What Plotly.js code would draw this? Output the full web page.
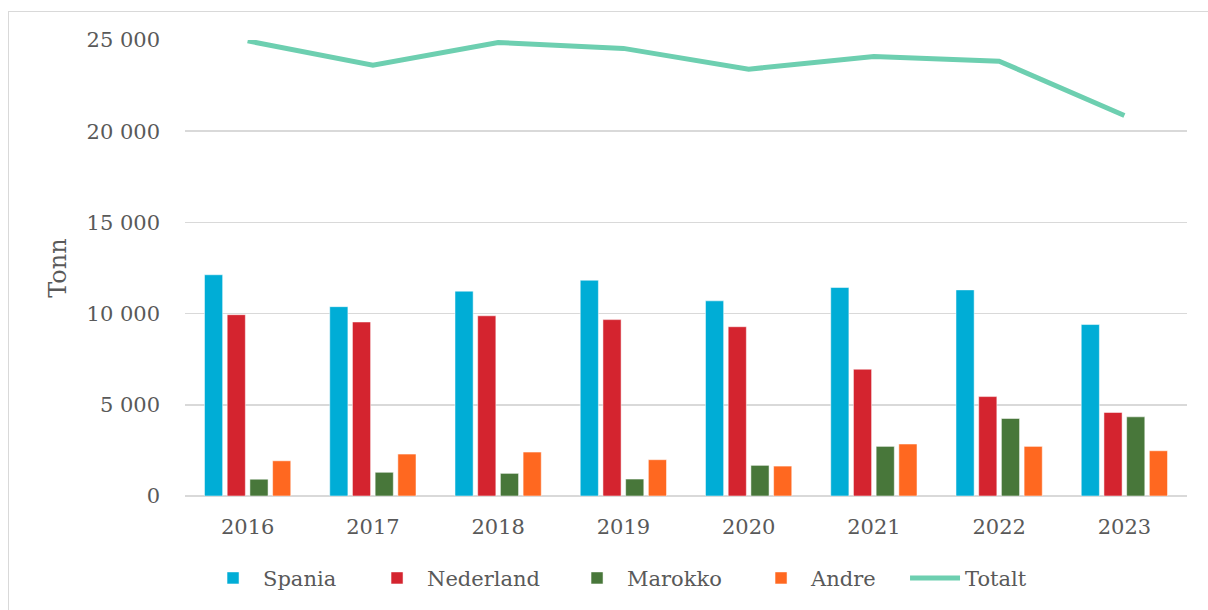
<!DOCTYPE html>
<html>
<head>
<meta charset="utf-8">
<script src="https://cdn.plot.ly/plotly-3.0.1.min.js"></script>
<style>
  html, body { margin: 0; padding: 0; background: #fff; }
  #wrap { position: relative; width: 1208px; height: 610px; overflow: hidden; }
  #chart { width: 1208px; height: 610px; }
  #frame { position: absolute; left: 8px; top: 11px; width: 1300px; height: 700px;
           border-top: 1px solid #d9d9d9; border-left: 1px solid #d9d9d9; pointer-events: none; }
</style>
</head>
<body>
<div id="wrap">
  <div id="chart"></div>
  <div id="frame"></div>
</div>
<script>
const years = ['2016', '2017', '2018', '2019', '2020', '2021', '2022', '2023'];
const spania = [12130, 10380, 11230, 11830, 10700, 11430, 11300, 9400];
const nederland = [9940, 9540, 9880, 9670, 9280, 6950, 5450, 4580];
const marokko = [920, 1300, 1240, 930, 1680, 2720, 4250, 4340];
const andre = [1930, 2300, 2410, 1990, 1640, 2850, 2720, 2480];
const totalt = [24950, 23620, 24860, 24540, 23400, 24090, 23840, 20860];
const tickVals = [0, 5000, 10000, 15000, 20000, 25000];
const tickText = ['0', '5 000', '10 000', '15 000', '20 000', '25 000'];

const font = 'DejaVu Serif, Georgia, serif';
const textColor = '#595959';

function barTrace(name, values, color, legendWidth) {
  return {
    type: 'bar', name: name, x: years, y: values,
    marker: { color: color, line: { color: 'rgba(255,255,255,0.5)', width: 1 } },
    legendwidth: legendWidth,
    hoverinfo: 'x+y+name'
  };
}

const data = [
  barTrace('Spania', spania, '#00add6', 99),
  barTrace('Nederland', nederland, '#d4242f', 135),
  barTrace('Marokko', marokko, '#48773a', 119),
  barTrace('Andre', andre, '#ff6820', 89),
  {
    type: 'scatter', mode: 'lines', name: 'Totalt', x: years, y: totalt,
    line: { color: '#6dcfb0', width: 5 }, cliponaxis: false
  }
];

const layout = {
  width: 1208, height: 610,
  margin: { l: 185, r: 21, t: 40, b: 113 },
  paper_bgcolor: '#ffffff', plot_bgcolor: '#ffffff',
  font: { family: font, size: 21, color: textColor },
  barmode: 'group', bargap: 0.275, bargroupgap: 0.2,
  showlegend: true,
  legend: {
    orientation: 'h', x: 0.018, xanchor: 'left', y: -0.133, yanchor: 'top',
    font: { family: font, size: 21, color: textColor },
    traceorder: 'normal', itemwidth: 50
  },
  xaxis: {
    type: 'category', showgrid: false, zeroline: false, showline: false,
    ticks: '', tickfont: { family: font, size: 21, color: textColor },
    ticklabelstandoff: 16
  },
  yaxis: {
    range: [0, 25000], tickvals: tickVals, ticktext: tickText,
    showgrid: true, gridcolor: '#d9d9d9', gridwidth: 1.5,
    zeroline: true, zerolinecolor: '#d9d9d9', zerolinewidth: 1.5,
    showline: false, ticks: '',
    tickfont: { family: font, size: 21, color: textColor },
    ticklabelstandoff: 24,
    title: { text: 'Tonn', font: { family: font, size: 24, color: textColor }, standoff: 13 }
  }
};

Plotly.newPlot('chart', data, layout, { displayModeBar: false, staticPlot: true });
</script>
</body>
</html>
